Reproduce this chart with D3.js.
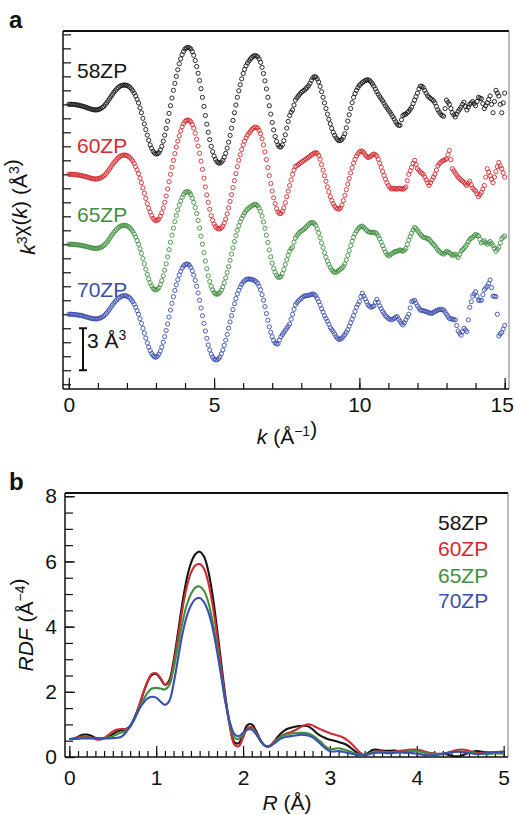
<!DOCTYPE html>
<html>
<head>
<meta charset="utf-8">
<script src="https://cdn.jsdelivr.net/npm/d3@7"></script>
<style>
    body { margin: 0; background: #fff; }
    svg text { font-family: "Liberation Sans", Arial, sans-serif; fill: #111; }
</style>
</head>
<body>
<svg id="chart" width="515" height="815"></svg>
<script>
// samples, colours, vertical offsets (in A^3) of the chi(k) traces
var samples = ['58ZP', '60ZP', '65ZP', '70ZP'];
var sampleColors = ['#151515', '#d42a30', '#3f8f3f', '#3b4fae'];
var chiOffsets = [15, 10, 5, 0];

// k grid, 0 .. 15 in steps of 0.05 (1/A); one row below = one unit of k
var kValues = d3.range(0, 301).map(function (i) { return i / 20; });

var chi58 = [
    0, 0, 0, 0, -0.02, -0.03, -0.05, -0.07, -0.1, -0.12, -0.15, -0.18, -0.22, -0.26, -0.3, -0.33, -0.36, -0.38, -0.4, -0.4,
    -0.38, -0.35, -0.3, -0.23, -0.15, -0.03, 0.1, 0.25, 0.4, 0.55, 0.7, 0.85, 0.98, 1.1, 1.2, 1.28, 1.33, 1.36, 1.38, 1.37,
    1.35, 1.3, 1.22, 1.11, 0.98, 0.8, 0.6, 0.36, 0.1, -0.25, -0.6, -1.0, -1.4, -1.8, -2.2, -2.57, -2.9, -3.15, -3.35, -3.48,
    -3.55, -3.53, -3.45, -3.27, -3.0, -2.63, -2.2, -1.72, -1.2, -0.65, -0.1, 0.45, 1.0, 1.5, 2.0, 2.47, 2.9, 3.25, 3.55, 3.78,
    3.95, 4.04, 4.07, 4.04, 3.95, 3.76, 3.5, 3.13, 2.7, 2.22, 1.7, 1.12, 0.5, -0.15, -0.8, -1.42, -2.0, -2.52, -3.0, -3.38,
    -3.7, -3.93, -4.1, -4.18, -4.2, -4.13, -4.0, -3.78, -3.5, -3.13, -2.7, -2.22, -1.7, -1.15, -0.6, -0.05, 0.5, 0.97, 1.4, 1.82,
    2.2, 2.5, 2.75, 2.95, 3.1, 3.24, 3.35, 3.44, 3.48, 3.46, 3.4, 3.24, 3.0, 2.64, 2.2, 1.68, 1.1, 0.5, -0.1, -0.7,
    -1.3, -1.83, -2.3, -2.65, -2.9, -3.03, -3.05, -2.9, -2.6, -2.18, -1.7, -1.22, -0.8, -0.55, -0.4, -0.05, 0.3, 0.47, 0.6, 0.73,
    0.85, 0.93, 1.0, 1.1, 1.2, 1.33, 1.5, 1.72, 1.9, 1.97, 1.95, 1.82, 1.6, 1.28, 0.9, 0.5, 0.1, -0.3, -0.7, -1.07,
    -1.4, -1.72, -2.0, -2.22, -2.4, -2.52, -2.6, -2.58, -2.5, -2.34, -2.1, -1.68, -1.2, -0.74, -0.3, 0.12, 0.5, 0.77, 1.0, 1.19,
    1.35, 1.46, 1.55, 1.63, 1.7, 1.74, 1.75, 1.7, 1.6, 1.46, 1.3, 1.1, 0.9, 0.72, 0.55, 0.4, 0.25, 0.08, -0.1, -0.25,
    -0.4, -0.55, -0.7, -0.88, -1.05, -1.25, -1.4, -1.5, -1.5, -1.1, -0.8, -0.72, -0.7, -0.6, -0.5, -0.35, -0.2, 0.05, 0.3, 0.55,
    0.8, 1.1, 1.3, 1.28, 1.2, 1.0, 0.8, 0.62, 0.5, 0.42, 0.35, 0.25, 0.1, -0.15, -0.4, -0.55, -0.7, -0.8, -0.85, -0.3,
    0.3, 0.15, 0.0, -0.3, -0.6, -0.75, -0.9, -0.7, -0.5, -0.35, -0.2, 0.0, 0.15, -0.15, -0.4, -0.2, 0.0, 0.1, 0.2, 0.05,
    -0.1, 0.2, 0.5, 0.45, 0.4, 0.05, -0.3, -0.1, 0.1, 0.35, 0.6, 0.0, -0.6, 0.2, 1.0, 0.8, 0.6, 0.0, -0.6, 0.1,
    0.8
];
var chi60 = [
    0, 0, 0, 0, -0.02, -0.03, -0.04, -0.06, -0.08, -0.1, -0.13, -0.15, -0.18, -0.21, -0.24, -0.27, -0.3, -0.32, -0.33, -0.33,
    -0.32, -0.29, -0.25, -0.19, -0.12, -0.02, 0.1, 0.24, 0.38, 0.53, 0.68, 0.82, 0.95, 1.07, 1.18, 1.26, 1.32, 1.36, 1.38, 1.37,
    1.34, 1.28, 1.2, 1.09, 0.95, 0.77, 0.55, 0.32, 0.05, -0.27, -0.6, -0.97, -1.35, -1.73, -2.1, -2.42, -2.7, -2.95, -3.15, -3.26,
    -3.3, -3.28, -3.2, -3.0, -2.75, -2.4, -2.0, -1.55, -1.05, -0.53, 0.0, 0.5, 1.0, 1.48, 1.95, 2.37, 2.75, 3.1, 3.4, 3.62,
    3.78, 3.86, 3.88, 3.84, 3.75, 3.56, 3.3, 2.93, 2.5, 2.02, 1.5, 0.94, 0.35, -0.28, -0.9, -1.47, -2.0, -2.5, -2.95, -3.28,
    -3.55, -3.73, -3.85, -3.9, -3.9, -3.82, -3.7, -3.48, -3.2, -2.83, -2.4, -1.94, -1.45, -0.95, -0.45, 0.05, 0.55, 1.0, 1.4, 1.77,
    2.1, 2.37, 2.6, 2.8, 2.95, 3.08, 3.2, 3.3, 3.36, 3.35, 3.3, 3.14, 2.9, 2.54, 2.1, 1.6, 1.05, 0.48, -0.1, -0.66,
    -1.2, -1.68, -2.1, -2.45, -2.7, -2.8, -2.8, -2.65, -2.4, -2.03, -1.6, -1.2, -0.8, -0.4, 0.0, 0.3, 0.55, 0.63, 0.7, 0.78,
    0.85, 0.93, 1.0, 1.08, 1.15, 1.22, 1.3, 1.38, 1.45, 1.52, 1.55, 1.5, 1.35, 1.07, 0.7, 0.3, -0.1, -0.5, -0.9, -1.26,
    -1.6, -1.88, -2.1, -2.28, -2.4, -2.46, -2.48, -2.4, -2.2, -1.88, -1.5, -1.1, -0.7, -0.3, 0.1, 0.47, 0.8, 1.07, 1.3, 1.47,
    1.6, 1.66, 1.65, 1.55, 1.4, 1.28, 1.2, 1.24, 1.3, 1.4, 1.45, 1.4, 1.3, 1.08, 0.8, 0.5, 0.2, -0.08, -0.35, -0.6,
    -0.8, -0.95, -1.05, -1.02, -1.0, -1.05, -1.05, -1.0, -1.0, -1.05, -1.05, -1.0, -0.9, -0.45, 0.0, 0.25, 0.5, 0.78, 1.0, 0.7,
    0.4, 0.28, 0.15, 0.08, 0.0, -0.2, -0.4, -0.6, -0.8, -0.6, -0.4, -0.2, 0.0, 0.3, 0.6, 0.75, 0.86, 0.95, 1.0, 1.05,
    1.1, 1.4, 1.7, 1.05, 0.4, 0.25, 0.1, -0.05, -0.2, -0.3, -0.4, -0.48, -0.57, -0.7, -0.8, -0.65, -0.5, -0.75, -1.0, -1.1,
    -1.2, -1.4, -1.6, -1.45, -1.3, -1.05, -0.8, -0.2, 0.4, 0.15, -0.1, -0.35, -0.6, -0.2, 0.2, 0.55, 0.85, 0.6, 0.4, 0.1,
    -0.2
];
var chi65 = [
    0, 0, 0, 0, -0.02, -0.03, -0.04, -0.05, -0.07, -0.09, -0.11, -0.13, -0.16, -0.18, -0.21, -0.24, -0.26, -0.28, -0.29, -0.29,
    -0.28, -0.26, -0.22, -0.17, -0.1, 0.0, 0.12, 0.25, 0.4, 0.55, 0.7, 0.84, 0.97, 1.08, 1.18, 1.25, 1.31, 1.34, 1.36, 1.35,
    1.32, 1.26, 1.18, 1.06, 0.92, 0.74, 0.52, 0.27, 0.0, -0.32, -0.65, -1.02, -1.4, -1.78, -2.15, -2.47, -2.75, -2.97, -3.15, -3.23,
    -3.26, -3.2, -3.1, -2.88, -2.6, -2.25, -1.85, -1.4, -0.9, -0.38, 0.15, 0.65, 1.15, 1.62, 2.05, 2.45, 2.8, 3.1, 3.35, 3.55,
    3.7, 3.76, 3.76, 3.7, 3.55, 3.3, 3.0, 2.63, 2.2, 1.7, 1.15, 0.58, 0.0, -0.6, -1.2, -1.75, -2.25, -2.66, -3.0, -3.26,
    -3.45, -3.54, -3.57, -3.54, -3.45, -3.28, -3.05, -2.75, -2.4, -2.02, -1.6, -1.15, -0.7, -0.25, 0.2, 0.62, 1.0, 1.32, 1.6, 1.85,
    2.05, 2.24, 2.4, 2.51, 2.6, 2.68, 2.75, 2.81, 2.86, 2.83, 2.75, 2.6, 2.35, 2.02, 1.6, 1.14, 0.65, 0.13, -0.4, -0.9,
    -1.35, -1.72, -2.0, -2.22, -2.35, -2.36, -2.3, -2.1, -1.8, -1.45, -1.1, -0.78, -0.5, -0.32, -0.2, 0.15, 0.45, 0.62, 0.75, 0.86,
    0.95, 1.02, 1.1, 1.2, 1.3, 1.4, 1.5, 1.55, 1.55, 1.48, 1.35, 1.1, 0.8, 0.46, 0.1, -0.25, -0.6, -0.92, -1.2, -1.44,
    -1.65, -1.82, -1.95, -2.0, -2.0, -1.93, -1.85, -1.78, -1.7, -1.58, -1.4, -1.12, -0.8, -0.45, -0.1, 0.22, 0.5, 0.75, 0.95, 1.1,
    1.2, 1.27, 1.3, 1.22, 1.1, 1.0, 0.9, 0.87, 0.85, 0.85, 0.85, 0.82, 0.75, 0.6, 0.4, 0.15, -0.1, -0.33, -0.55, -0.72,
    -0.83, -0.78, -0.7, -0.62, -0.55, -0.52, -0.5, -0.45, -0.4, -0.45, -0.5, -0.42, -0.3, 0.0, 0.3, 0.55, 0.8, 1.02, 1.2, 1.12,
    1.0, 0.85, 0.7, 0.6, 0.5, 0.47, 0.45, 0.4, 0.36, 0.23, 0.1, 0.0, -0.1, -0.25, -0.4, -0.5, -0.6, -0.65, -0.7, -0.6,
    -0.5, -0.55, -0.6, -0.7, -0.8, -0.75, -0.7, -0.82, -0.95, -0.72, -0.5, -0.4, -0.3, -0.15, 0.0, 0.18, 0.36, 0.43, 0.5, 0.6,
    0.7, 0.65, 0.6, 0.35, 0.1, 0.18, 0.25, 0.12, 0.0, 0.1, 0.2, 0.05, -0.1, -0.3, -0.5, -0.35, -0.2, 0.1, 0.4, 0.5,
    0.6
];
var chi70 = [
    0, 0, 0, -0.01, -0.02, -0.03, -0.05, -0.06, -0.08, -0.1, -0.13, -0.16, -0.19, -0.22, -0.25, -0.28, -0.3, -0.32, -0.33, -0.33,
    -0.32, -0.29, -0.25, -0.19, -0.12, -0.03, 0.08, 0.21, 0.35, 0.5, 0.65, 0.79, 0.92, 1.03, 1.13, 1.21, 1.27, 1.31, 1.33, 1.32,
    1.3, 1.24, 1.16, 1.04, 0.9, 0.72, 0.5, 0.26, 0.0, -0.32, -0.65, -1.0, -1.35, -1.7, -2.05, -2.35, -2.6, -2.8, -2.95, -3.04,
    -3.07, -3.0, -2.85, -2.63, -2.35, -2.0, -1.6, -1.16, -0.7, -0.2, 0.3, 0.78, 1.25, 1.7, 2.1, 2.47, 2.8, 3.07, 3.3, 3.45,
    3.55, 3.59, 3.58, 3.5, 3.35, 3.1, 2.8, 2.42, 2.0, 1.52, 1.0, 0.45, -0.1, -0.65, -1.2, -1.72, -2.2, -2.55, -2.85, -3.06,
    -3.2, -3.25, -3.26, -3.18, -3.05, -2.83, -2.55, -2.22, -1.85, -1.44, -1.0, -0.55, -0.1, 0.33, 0.75, 1.12, 1.45, 1.72, 1.95, 2.14,
    2.3, 2.4, 2.48, 2.51, 2.52, 2.51, 2.48, 2.45, 2.4, 2.32, 2.2, 2.0, 1.75, 1.4, 1.0, 0.55, 0.05, -0.43, -0.9, -1.28,
    -1.6, -1.87, -2.05, -2.12, -2.1, -1.85, -1.6, -1.45, -1.3, -1.15, -1.0, -0.86, -0.7, -0.35, 0.0, 0.35, 0.67, 0.83, 0.95, 1.05,
    1.14, 1.23, 1.3, 1.32, 1.33, 1.35, 1.38, 1.42, 1.45, 1.4, 1.3, 1.12, 0.9, 0.65, 0.4, 0.15, -0.1, -0.3, -0.5, -0.72,
    -0.95, -1.1, -1.24, -1.42, -1.6, -1.72, -1.8, -1.77, -1.7, -1.58, -1.45, -1.28, -1.1, -0.85, -0.6, -0.35, -0.1, 0.2, 0.5, 0.7,
    0.9, 1.25, 1.5, 1.3, 1.1, 0.88, 0.67, 0.58, 0.5, 0.55, 0.6, 0.85, 1.07, 0.85, 0.6, 0.4, 0.2, 0.05, -0.1, -0.2,
    -0.3, -0.35, -0.4, -0.35, -0.3, -0.22, -0.17, -0.35, -0.5, -0.65, -0.76, -0.6, -0.4, -0.2, 0.0, 0.45, 0.9, 0.95, 1.0, 0.8,
    0.6, 0.45, 0.3, 0.28, 0.25, 0.22, 0.2, 0.15, 0.1, 0.08, 0.07, 0.13, 0.2, 0.25, 0.3, 0.33, 0.35, 0.33, 0.3, 0.15,
    0.0, -0.15, -0.3, -0.32, -0.35, -0.38, -0.4, -0.8, -1.2, -1.35, -1.5, -1.25, -1.0, -1.12, -1.24, -0.4, 0.5, 0.9, 1.3, 1.45,
    1.6, 1.3, 1.0, 1.0, 1.0, 1.4, 1.75, 1.88, 2.0, 2.2, 2.45, 1.9, 1.3, 1.28, 1.26, 0.0, -1.55, -1.4, -1.3, -1.05,
    -0.8
];
var chiSeries = [chi58, chi60, chi65, chi70];

// R grid, 0 .. 5 in steps of 0.05 (A)
var rValues = d3.range(0, 101).map(function (i) { return i / 20; });

var rdf58 = [
    0.55, 0.57, 0.62, 0.68, 0.69, 0.65, 0.59, 0.57, 0.58, 0.62,
    0.7, 0.78, 0.82, 0.85, 0.95, 1.2, 1.55, 1.95, 2.3, 2.52,
    2.55, 2.4, 2.22, 2.35, 2.95, 3.8, 4.7, 5.45, 5.95, 6.22,
    6.3, 6.15, 5.7, 4.95, 3.95, 2.85, 1.8, 0.95, 0.45, 0.42,
    0.7, 0.98, 1.0, 0.8, 0.52, 0.35, 0.33, 0.45, 0.62, 0.76,
    0.85, 0.9, 0.93, 0.95, 0.96, 0.94, 0.85, 0.73, 0.64, 0.58,
    0.53, 0.5, 0.46, 0.42, 0.36, 0.26, 0.15, 0.07, 0.06, 0.15,
    0.22, 0.22, 0.2, 0.19, 0.19, 0.2, 0.17, 0.14, 0.15, 0.18,
    0.19, 0.17, 0.14, 0.12, 0.1, 0.1, 0.1, 0.08, 0.04, 0.02,
    0.03, 0.08, 0.13, 0.17, 0.18, 0.16, 0.14, 0.13, 0.14, 0.16,
    0.17
];
var rdf60 = [
    0.55, 0.56, 0.6, 0.63, 0.63, 0.6, 0.55, 0.53, 0.58, 0.68,
    0.78, 0.84, 0.86, 0.86, 0.95, 1.2, 1.55, 1.95, 2.32, 2.55,
    2.57, 2.42, 2.22, 2.3, 2.85, 3.65, 4.5, 5.2, 5.65, 5.88,
    5.92, 5.78, 5.35, 4.65, 3.75, 2.7, 1.7, 0.9, 0.38, 0.33,
    0.6, 0.88, 0.92, 0.75, 0.5, 0.35, 0.34, 0.44, 0.56, 0.66,
    0.72, 0.76, 0.82, 0.9, 0.97, 1.0, 0.97, 0.9, 0.84, 0.78,
    0.73, 0.69, 0.65, 0.6, 0.52, 0.4, 0.26, 0.13, 0.07, 0.1,
    0.15, 0.17, 0.17, 0.15, 0.15, 0.17, 0.19, 0.2, 0.22, 0.23,
    0.23, 0.2, 0.16, 0.12, 0.1, 0.09, 0.09, 0.12, 0.17, 0.21,
    0.23, 0.22, 0.19, 0.15, 0.12, 0.12, 0.13, 0.15, 0.14, 0.12,
    0.12
];
var rdf65 = [
    0.55, 0.56, 0.58, 0.6, 0.6, 0.59, 0.57, 0.57, 0.58, 0.6,
    0.64, 0.7, 0.75, 0.8, 0.92, 1.15, 1.45, 1.75, 1.97, 2.1,
    2.12, 2.1, 2.07, 2.2, 2.7, 3.4, 4.1, 4.65, 5.0, 5.2,
    5.23, 5.1, 4.75, 4.15, 3.4, 2.5, 1.65, 1.0, 0.6, 0.55,
    0.7, 0.84, 0.86, 0.72, 0.5, 0.34, 0.32, 0.42, 0.55, 0.64,
    0.69, 0.72, 0.73, 0.74, 0.74, 0.72, 0.66, 0.56, 0.45, 0.32,
    0.25, 0.25, 0.27, 0.24, 0.2, 0.15, 0.1, 0.07, 0.06, 0.1,
    0.15, 0.16, 0.15, 0.14, 0.14, 0.15, 0.16, 0.16, 0.17, 0.18,
    0.18, 0.16, 0.13, 0.1, 0.09, 0.09, 0.1, 0.12, 0.14, 0.16,
    0.17, 0.16, 0.14, 0.12, 0.1, 0.09, 0.09, 0.1, 0.11, 0.11,
    0.11
];
var rdf70 = [
    0.55, 0.55, 0.56, 0.57, 0.57, 0.57, 0.57, 0.57, 0.57, 0.57,
    0.58, 0.59, 0.62, 0.75, 0.95, 1.2, 1.45, 1.65, 1.8, 1.85,
    1.82, 1.7, 1.6, 1.72, 2.25, 3.0, 3.75, 4.3, 4.65, 4.84,
    4.88, 4.75, 4.45, 3.95, 3.25, 2.45, 1.65, 1.05, 0.7, 0.64,
    0.74, 0.84, 0.84, 0.7, 0.5, 0.35, 0.32, 0.4, 0.5, 0.58,
    0.62, 0.64, 0.66, 0.68, 0.68, 0.66, 0.6, 0.5, 0.38, 0.26,
    0.18, 0.17, 0.18, 0.16, 0.13, 0.1, 0.07, 0.05, 0.05, 0.08,
    0.12, 0.13, 0.13, 0.12, 0.12, 0.13, 0.14, 0.14, 0.13, 0.12,
    0.1, 0.08, 0.06, 0.05, 0.05, 0.07, 0.1, 0.13, 0.15, 0.16,
    0.16, 0.14, 0.12, 0.1, 0.09, 0.1, 0.12, 0.14, 0.15, 0.15,
    0.15
];
var rdfSeries = [rdf58, rdf60, rdf65, rdf70];

var kMajorTicks = [0, 5, 10, 15];
var rMajorTicks = [0, 1, 2, 3, 4, 5];
var rdfMajorTicks = [0, 2, 4, 6, 8];

(function () {
    'use strict';

    var svg = d3.select('#chart');
    var FONT = 21;

    function frame(g, x0, x1, y0, y1) {
        // thick top edge and thin grey right edge, as in the figure
        g.append('line').attr('x1', x0).attr('x2', x1).attr('y1', y0).attr('y2', y0)
            .attr('stroke', '#111').attr('stroke-width', 2);
        g.append('line').attr('x1', x1).attr('x2', x1).attr('y1', y0).attr('y2', y1)
            .attr('stroke', '#777').attr('stroke-width', 1);
        g.append('line').attr('x1', x0).attr('x2', x0).attr('y1', y0).attr('y2', y1)
            .attr('stroke', '#111').attr('stroke-width', 1.5);
        g.append('line').attr('x1', x0).attr('x2', x1).attr('y1', y1).attr('y2', y1)
            .attr('stroke', '#111').attr('stroke-width', 1.5);
    }

    function styleAxis(g) {
        g.select('.domain').remove();
        g.selectAll('.tick line').attr('stroke', '#111').attr('stroke-width', 1.2);
        g.selectAll('.tick text')
            .style('font-size', FONT + 'px')
            .attr('fill', '#111');
    }

    function sup(t, s) {
        t.append('tspan').attr('dy', -8).style('font-size', '14px').text(s);
        t.append('tspan').attr('dy', 8).text('');
    }

    // ---------------- panel a : k^3 chi(k) ----------------
    var ax = d3.scaleLinear().domain([-0.2, 15.15]).range([63, 509]);
    var ay = d3.scaleLinear().domain([-5.34, 20.24]).range([389, 31]);

    var ga = svg.append('g').attr('class', 'panel-a');

    ga.append('g').attr('transform', 'translate(0,389)')
        .call(d3.axisBottom(ax).tickValues(d3.range(0, 16)).tickSize(-6).tickFormat(''))
        .call(styleAxis);
    ga.append('g').attr('transform', 'translate(0,389)')
        .call(d3.axisBottom(ax).tickValues(kMajorTicks).tickSize(-11).tickPadding(8))
        .call(styleAxis)
        .selectAll('.tick text')
        .attr('dx', function (d) { return d === 15 ? -3 : 0; });
    ga.append('g').attr('transform', 'translate(63,0)')
        .call(d3.axisLeft(ay).tickValues(d3.range(-5, 21)).tickSize(-8).tickFormat(''))
        .call(styleAxis);

    frame(ga, 63, 509, 31, 389);

    samples.forEach(function (name, si) {
        var off = chiOffsets[si];
        ga.append('g')
            .attr('class', 'series')
            .selectAll('circle')
            .data(chiSeries[si])
            .enter().append('circle')
            .attr('cx', function (d, i) { return ax(kValues[i]); })
            .attr('cy', function (d) { return ay(d + off); })
            .attr('r', 2.1)
            .attr('fill', 'none')
            .attr('stroke', sampleColors[si])
            .attr('stroke-width', 0.9);
    });

    var labelY = [78, 153, 222, 297];
    samples.forEach(function (name, si) {
        ga.append('text')
            .attr('x', 77)
            .attr('y', labelY[si])
            .style('font-size', FONT + 'px')
            .style('fill', sampleColors[si])
            .text(name);
    });

    // 3 A^3 scale bar
    var sb = ga.append('g').attr('class', 'scale-bar');
    var sbTop = ay(-1), sbBot = ay(-4);
    sb.append('line').attr('x1', 83).attr('x2', 83).attr('y1', sbTop).attr('y2', sbBot)
        .attr('stroke', '#111').attr('stroke-width', 2);
    [sbTop, sbBot].forEach(function (yy) {
        sb.append('line').attr('x1', 79).attr('x2', 87).attr('y1', yy).attr('y2', yy)
            .attr('stroke', '#111').attr('stroke-width', 2);
    });
    var sbt = sb.append('text').attr('x', 87).attr('y', 348).style('font-size', FONT + 'px');
    sbt.append('tspan').text('3 Å');
    sup(sbt, '3');

    // axis titles
    var kt = ga.append('text').attr('x', 287).attr('y', 444)
        .attr('text-anchor', 'middle').style('font-size', FONT + 'px');
    kt.append('tspan').style('font-style', 'italic').text('k');
    kt.append('tspan').text(' (Å');
    sup(kt, '−1');
    kt.append('tspan').text(')');

    var yt = ga.append('text').attr('transform', 'translate(35,207) rotate(-90)')
        .attr('text-anchor', 'middle').style('font-size', FONT + 'px');
    yt.append('tspan').style('font-style', 'italic').text('k');
    sup(yt, '3');
    yt.append('tspan').text('χ(');
    yt.append('tspan').style('font-style', 'italic').text('k');
    yt.append('tspan').text(') (Å');
    sup(yt, '3');
    yt.append('tspan').text(')');

    svg.append('text').attr('x', 9).attr('y', 28)
        .style('font-size', '24px').style('font-weight', 'bold').text('a');

    // ---------------- panel b : RDF ----------------
    var bx = d3.scaleLinear().domain([-0.05, 5.05]).range([65, 508]);
    var by = d3.scaleLinear().domain([0, 8.1]).range([757, 493]);

    var gb = svg.append('g').attr('class', 'panel-b');

    gb.append('g').attr('transform', 'translate(0,757)')
        .call(d3.axisBottom(bx).tickValues(d3.range(0, 51).map(function (i) { return i / 10; }))
            .tickSize(-6).tickFormat(''))
        .call(styleAxis);
    gb.append('g').attr('transform', 'translate(0,757)')
        .call(d3.axisBottom(bx).tickValues(rMajorTicks).tickSize(-11).tickPadding(13)
            .tickFormat(d3.format('d')))
        .call(styleAxis);
    gb.append('g').attr('transform', 'translate(65,0)')
        .call(d3.axisLeft(by).tickValues(d3.range(0, 17).map(function (i) { return i / 2; }))
            .tickSize(-8).tickFormat(''))
        .call(styleAxis);
    gb.append('g').attr('transform', 'translate(65,0)')
        .call(d3.axisLeft(by).tickValues(rdfMajorTicks).tickSize(-10).tickPadding(8)
            .tickFormat(d3.format('d')))
        .call(styleAxis);

    frame(gb, 65, 508, 493, 757);

    var line = d3.line()
        .x(function (d, i) { return bx(rValues[i]); })
        .y(function (d) { return by(d); })
        .curve(d3.curveCatmullRom);

    samples.forEach(function (name, si) {
        gb.append('path')
            .datum(rdfSeries[si])
            .attr('d', line)
            .attr('fill', 'none')
            .attr('stroke', sampleColors[si])
            .attr('stroke-width', 2.1);
    });

    var legendY = [530, 556, 583, 608];
    samples.forEach(function (name, si) {
        gb.append('text')
            .attr('x', 438)
            .attr('y', legendY[si])
            .style('font-size', FONT + 'px')
            .style('fill', sampleColors[si])
            .text(name);
    });

    var rt = gb.append('text').attr('x', 287).attr('y', 810)
        .attr('text-anchor', 'middle').style('font-size', FONT + 'px');
    rt.append('tspan').style('font-style', 'italic').text('R');
    rt.append('tspan').text(' (Å)');

    var dt = gb.append('text').attr('transform', 'translate(33,625) rotate(-90)')
        .attr('text-anchor', 'middle').style('font-size', FONT + 'px');
    dt.append('tspan').style('font-style', 'italic').text('RDF');
    dt.append('tspan').text(' (Å');
    sup(dt, '−4');
    dt.append('tspan').text(')');

    svg.append('text').attr('x', 9).attr('y', 490)
        .style('font-size', '24px').style('font-weight', 'bold').text('b');
})();
</script>
</body>
</html>
